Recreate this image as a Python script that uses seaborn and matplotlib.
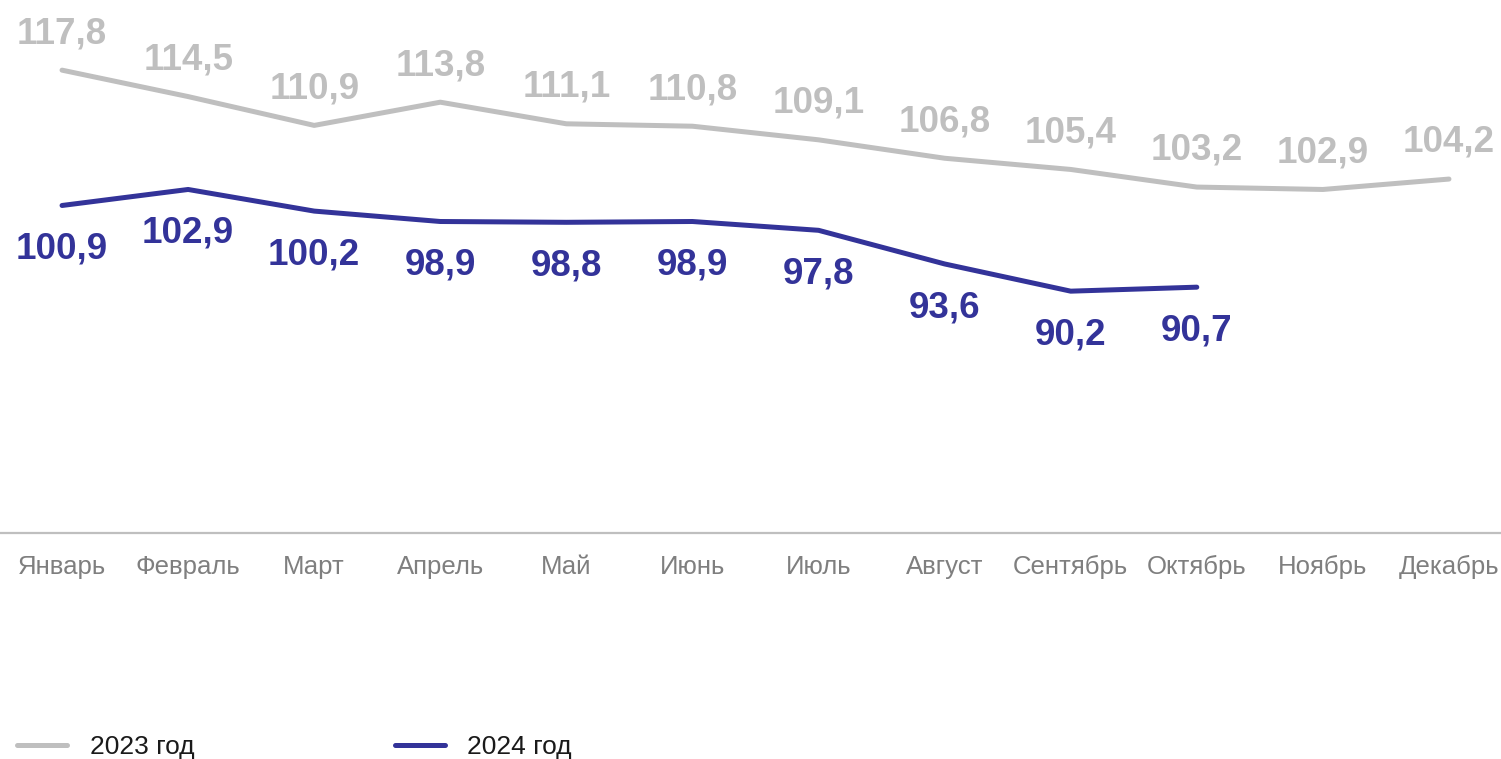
import matplotlib
matplotlib.use("Agg")
import matplotlib.pyplot as plt
import seaborn as sns
import pandas as pd
from matplotlib.lines import Line2D

months = ["Январь", "Февраль", "Март", "Апрель", "Май", "Июнь", "Июль",
          "Август", "Сентябрь", "Октябрь", "Ноябрь", "Декабрь"]
values_2023 = [117.8, 114.5, 110.9, 113.8, 111.1, 110.8, 109.1, 106.8, 105.4, 103.2, 102.9, 104.2]
values_2024 = [100.9, 102.9, 100.2, 98.9, 98.8, 98.9, 97.8, 93.6, 90.2, 90.7]
series_names = ["2023 год", "2024 год"]
colors = {"2023 год": "#BFBFBF", "2024 год": "#333399"}

# длинный формат для seaborn
rows = []
for m, v in zip(months, values_2023):
    rows.append({"month": m, "value": v, "year": series_names[0]})
for m, v in zip(months, values_2024):
    rows.append({"month": m, "value": v, "year": series_names[1]})
df = pd.DataFrame(rows)

sns.set_theme(style="white")
plt.rcParams["font.family"] = ["Liberation Sans", "DejaVu Sans"]

fig = plt.figure(figsize=(15.01, 7.59), dpi=100)
ax = fig.add_axes([-1 / 1501, 226 / 759, 1513 / 1501, 520.5 / 759])

sns.lineplot(data=df, x="month", y="value", hue="year", palette=colors,
             sort=False, linewidth=3.6, legend=False, ax=ax)
for line in ax.get_lines():
    line.set_solid_capstyle("round")
    line.set_solid_joinstyle("round")

# подписи значений
for i, v in enumerate(values_2023):
    ax.annotate(f"{v:.1f}".replace(".", ","), (i, v), xytext=(0, 19.5),
                textcoords="offset points", ha="center", va="baseline",
                fontsize=26.5, fontweight="bold", color=colors["2023 год"])
for i, v in enumerate(values_2024):
    ax.annotate(f"{v:.1f}".replace(".", ","), (i, v), xytext=(0, -38.5),
                textcoords="offset points", ha="center", va="baseline",
                fontsize=26.5, fontweight="bold", color=colors["2024 год"])

ax.set_xlim(-0.5, 11.5)
ax.set_ylim(60, 125)
ax.set_xlabel("")
ax.set_ylabel("")
ax.set_yticks([])
ax.tick_params(axis="x", length=0, pad=16, labelsize=18.5, labelcolor="#7F7F7F")
for side in ["top", "left", "right"]:
    ax.spines[side].set_visible(False)
ax.spines["bottom"].set_color("#BFBFBF")
ax.spines["bottom"].set_linewidth(1.6)
ax.set_facecolor("none")

handles = [Line2D([], [], color=colors[n], linewidth=3.6) for n in series_names]
fig.legend(handles, series_names, loc="lower left", bbox_to_anchor=(17 / 1501, 0.0),
           ncol=2, frameon=False, fontsize=19, handlelength=1.9, handletextpad=0.85,
           columnspacing=7.6, borderpad=0, borderaxespad=0, labelcolor="#1A1A1A")

fig.savefig("out.png", dpi=100)
